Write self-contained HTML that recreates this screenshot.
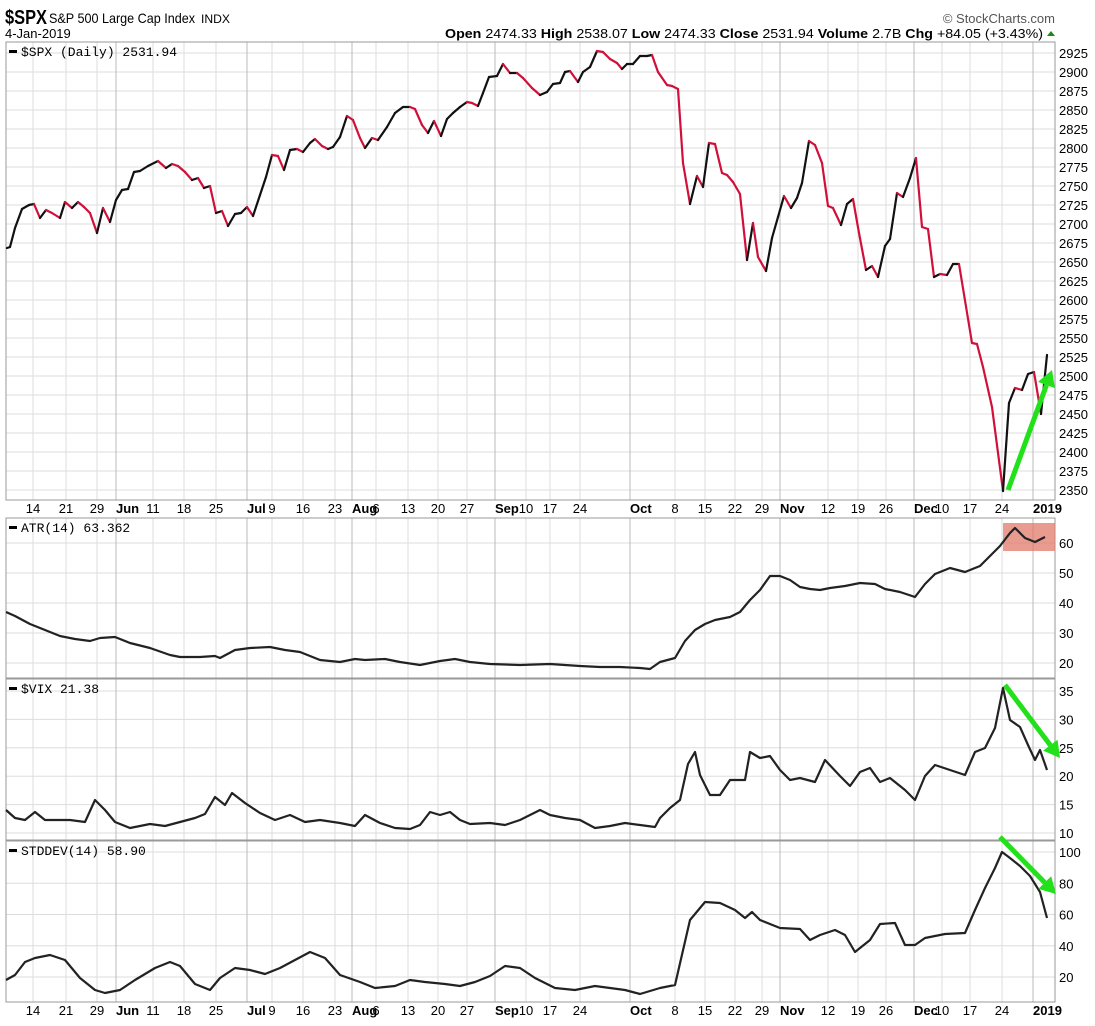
<!DOCTYPE html>
<html><head><meta charset="utf-8"><style>
body{margin:0;background:#fff;width:1095px;height:1021px;overflow:hidden;font-family:"Liberation Sans",Arial,sans-serif}
</style></head><body>
<svg id="s" width="1095" height="1021" xmlns="http://www.w3.org/2000/svg" font-family="Liberation Sans, Arial, sans-serif">
<text x="5" y="24" font-size="20" font-weight="bold" textLength="42" lengthAdjust="spacingAndGlyphs">$SPX</text>
<text x="49" y="23" font-size="14" textLength="146" lengthAdjust="spacingAndGlyphs">S&amp;P 500 Large Cap Index</text>
<text x="201" y="23" font-size="12" textLength="29" lengthAdjust="spacingAndGlyphs">INDX</text>
<text x="5" y="38" font-size="13">4-Jan-2019</text>
<text x="1055" y="23" font-size="13" fill="#555" text-anchor="end">© StockCharts.com</text>
<text x="445" y="38" font-size="13" textLength="598" lengthAdjust="spacingAndGlyphs"><tspan font-weight="bold">Open</tspan> 2474.33  <tspan font-weight="bold">High</tspan> 2538.07  <tspan font-weight="bold">Low</tspan> 2474.33  <tspan font-weight="bold">Close</tspan> 2531.94  <tspan font-weight="bold">Volume</tspan> 2.7B  <tspan font-weight="bold">Chg</tspan> +84.05 (+3.43%)</text>
<polygon points="1047,36 1055,36 1051,31" fill="#1a8a1a"/>
<g id="g"></g>
</svg>
<script>
const NS="http://www.w3.org/2000/svg",g=document.getElementById('g');
function el(t,a,txt){const e=document.createElementNS(NS,t);for(const k in a)e.setAttribute(k,a[k]);if(txt!=null)e.textContent=txt;g.appendChild(e);return e;}
const L=6,R=1055;
const panels=[[42,500],[518,678],[679,840],[841,1002]];
for(let p=2350;p<=2925;p+=25){const y=490-(p-2350)*0.76;el('line',{x1:L,x2:R,y1:y,y2:y,stroke:'#ddd'});el('text',{x:1059,y:y+5,'font-size':13},p);}
for(let v=20;v<=60;v+=10){const y=543-(v-60)*3;el('line',{x1:L,x2:R,y1:y,y2:y,stroke:'#ddd'});el('text',{x:1059,y:y+5,'font-size':13},v);}
for(let v=10;v<=35;v+=5){const y=833-(v-10)*5.68;el('line',{x1:L,x2:R,y1:y,y2:y,stroke:'#ddd'});el('text',{x:1059,y:y+5,'font-size':13},v);}
for(let v=20;v<=100;v+=20){const y=977-(v-20)*1.5625;el('line',{x1:L,x2:R,y1:y,y2:y,stroke:'#ddd'});el('text',{x:1059,y:y+5,'font-size':13},v);}
const vx=[[33,'14'],[66,'21'],[97,'29'],[116,'Jun',1],[153,'11'],[184,'18'],[216,'25'],[247,'Jul',1],[272,'9'],[303,'16'],[335,'23'],[352,'Aug',1],[376,'6'],[408,'13'],[438,'20'],[467,'27'],[495,'Sep',1],[526,'10'],[550,'17'],[580,'24'],[630,'Oct',1],[675,'8'],[705,'15'],[735,'22'],[762,'29'],[780,'Nov',1],[828,'12'],[858,'19'],[886,'26'],[914,'Dec',1],[942,'10'],[970,'17'],[1002,'24'],[1033,'2019',1]];
for(const [x,t,m] of vx){for(const [a,b] of panels)el('line',{x1:x,x2:x,y1:a,y2:b,stroke:m?'#bbb':'#ddd'});
 for(const ly of [513,1015]){el('text',{x:x,y:ly,'font-size':13,'font-weight':m?'bold':'normal','text-anchor':m?'start':'middle'},t);}}
for(const [a,b] of panels)el('rect',{x:L,y:a,width:R-L,height:b-a,fill:'none',stroke:'#999'});
const lab=[[56,'$SPX (Daily) 2531.94'],[532,'ATR(14) 63.362'],[693,'$VIX 21.38'],[855,'STDDEV(14) 58.90']];
for(const [y,t] of lab){el('rect',{x:9,y:y-6,width:8,height:3,fill:'#000'});el('text',{x:21,y:y,'font-size':13,'font-family':'Liberation Mono, monospace'},t);}
const P=[[7,248],[10,247],[15,228],[22,209],[29,205],[34,204],[40,218],[46,210],[52,213],[60,218],[65,202],[72,208],[78,202],[84,207],[90,213],[97,233],[103,208],[110,222],[116,200],[122,190],[128,189],[134,172],[140,171],[148,166],[158,161],[166,168],[172,164],[178,166],[185,172],[192,180],[198,178],[204,188],[210,186],[216,213],[222,211],[228,226],[235,214],[241,213],[247,207],[253,216],[260,195],[266,177],[272,155],[278,156],[284,170],[290,150],[297,149],[303,152],[310,143],[315,139],[322,146],[328,149],[333,147],[340,137],[347,116],[353,120],[360,138],[365,148],[372,138],[378,140],[387,127],[395,113],[403,107],[410,107],[415,109],[422,125],[428,133],[434,121],[441,136],[447,119],[453,113],[460,107],[467,102],[472,103],[478,106],[483,93],[489,77],[497,76],[503,64],[510,73],[517,73],[523,78],[532,88],[540,95],[547,92],[553,84],[560,83],[565,72],[570,71],[578,82],[583,72],[590,67],[597,51],[603,52],[610,59],[617,63],[622,69],[627,64],[633,64],[640,56],[647,56],[652,55],[658,72],[667,85],[672,86],[678,89],[683,163],[690,204],[697,176],[703,187],[709,143],[715,144],[722,173],[727,175],[733,182],[740,194],[747,260],[753,223],[758,257],[766,271],[772,238],[778,217],[784,196],[791,208],[797,198],[802,183],[809,141],[815,145],[822,163],[828,206],[833,208],[841,225],[847,204],[853,199],[859,233],[866,270],[872,266],[878,277],[885,246],[890,239],[897,193],[903,197],[910,178],[916,158],[922,227],[928,229],[934,277],[940,274],[947,275],[953,264],[959,264],[972,343],[977,344],[983,367],[992,407],[1003,491],[1009,403],[1015,388],[1022,390],[1028,374],[1034,372],[1041,414],[1047,355]];
for(let i=1;i<P.length;i++){el('line',{x1:P[i-1][0],y1:P[i-1][1],x2:P[i][0],y2:P[i][1],stroke:P[i][1]>P[i-1][1]?'#d0103a':'#111','stroke-width':2.2,'stroke-linecap':'round'});}
function line(pts){el('polyline',{points:pts.map(p=>p.join(',')).join(' '),fill:'none',stroke:'#222','stroke-width':2.2,'stroke-linejoin':'round'});}
el('rect',{x:1003,y:523,width:52,height:28,fill:'#e07a68','fill-opacity':0.75});
line([[6,612],[15,616],[30,624],[45,630],[60,636],[75,639],[90,641],[100,638],[115,637],[130,643],[150,648],[170,655],[180,657],[200,657],[215,656],[220,658],[235,650],[250,648],[270,647],[285,650],[300,652],[320,660],[340,662],[355,659],[365,660],[385,659],[400,662],[420,665],[440,661],[455,659],[470,662],[490,664],[520,665],[550,664],[580,666],[600,667],[620,667],[640,668],[650,669],[660,662],[675,658],[685,641],[695,630],[705,624],[715,620],[730,617],[740,612],[750,600],[760,590],[770,576],[780,576],[790,580],[800,587],[810,589],[820,590],[830,588],[845,586],[860,583],[875,584],[885,589],[900,592],[915,597],[925,584],[935,574],[950,568],[965,572],[980,566],[990,556],[1000,546],[1010,533],[1015,528],[1025,538],[1035,542],[1045,537]]);
line([[6,810],[15,818],[25,820],[35,812],[45,820],[70,820],[85,822],[95,800],[105,810],[115,822],[130,828],[150,824],[165,826],[180,822],[195,818],[205,814],[215,797],[225,805],[232,793],[245,803],[260,813],[275,820],[290,815],[305,822],[320,820],[340,823],[355,826],[365,815],[380,823],[395,828],[410,829],[420,825],[430,812],[440,815],[450,812],[460,820],[470,824],[490,823],[505,825],[520,820],[540,810],[550,815],[565,818],[580,820],[595,828],[610,826],[625,823],[640,825],[655,827],[660,818],[670,808],[680,800],[688,764],[695,752],[700,775],[710,795],[720,795],[730,780],[745,780],[750,752],[760,758],[770,756],[780,770],[790,780],[800,778],[815,782],[825,760],[840,776],[850,786],[860,772],[870,768],[880,782],[890,778],[905,790],[915,800],[925,776],[935,765],[950,770],[965,775],[975,752],[985,748],[995,728],[1003,688],[1010,720],[1020,727],[1028,745],[1035,760],[1040,750],[1047,770]]);
line([[6,980],[15,975],[25,962],[35,958],[50,955],[65,960],[80,978],[95,990],[105,993],[120,990],[135,980],[155,968],[170,962],[180,966],[195,984],[210,990],[220,978],[235,968],[250,970],[265,974],[280,968],[295,960],[310,952],[325,958],[340,975],[360,982],[375,988],[395,986],[410,980],[425,982],[445,984],[460,986],[475,982],[490,976],[505,966],[520,968],[535,978],[555,988],[575,990],[595,986],[610,988],[625,990],[640,994],[660,988],[675,985],[690,920],[705,902],[720,903],[735,910],[745,918],[752,912],[760,920],[780,928],[800,929],[810,940],[820,935],[835,930],[845,935],[855,952],[870,940],[880,924],[895,923],[905,945],[915,945],[925,938],[945,934],[965,933],[975,910],[985,888],[995,868],[1002,852],[1010,858],[1020,866],[1030,876],[1040,892],[1047,918]]);
function arrow(x1,y1,x2,y2){const a=Math.atan2(y2-y1,x2-x1),h=16,w=9;const bx=x2-h*Math.cos(a),by=y2-h*Math.sin(a);
el('line',{x1:x1,y1:y1,x2:bx,y2:by,stroke:'#22e01a','stroke-width':5});
el('polygon',{points:`${x2},${y2} ${bx+w*Math.sin(a)},${by-w*Math.cos(a)} ${bx-w*Math.sin(a)},${by+w*Math.cos(a)}`,fill:'#22e01a'});}
arrow(1008,490,1052,370);arrow(1005,685,1060,758);arrow(1000,837,1056,894);
</script>
</body></html>
